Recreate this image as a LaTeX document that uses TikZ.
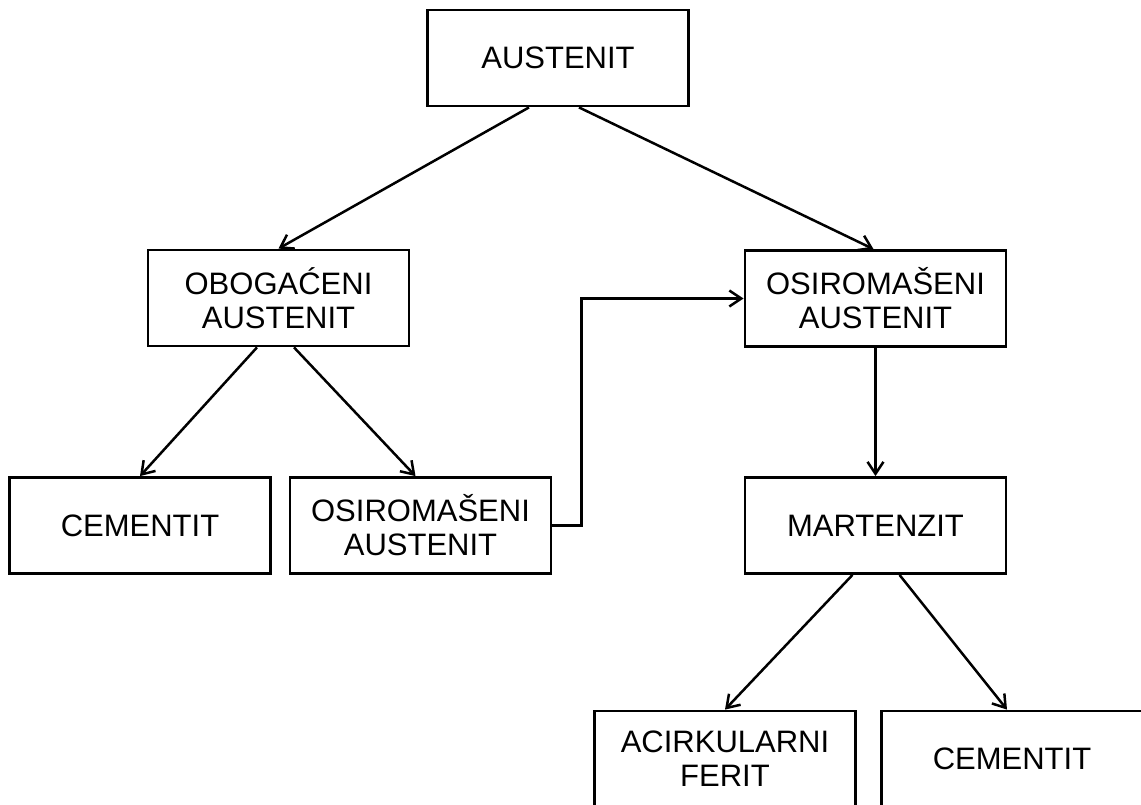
\documentclass[tikz,border=0pt]{standalone}
\usepackage{fontspec}
\setmainfont{Liberation Sans}
\usetikzlibrary{arrows.meta}
\begin{document}
\begin{tikzpicture}[x=1pt,y=-1pt,
  stagebox/.style={draw, line width=2.8pt, minimum width=261pt, minimum height=96pt,
    inner sep=0pt, align=center, font=\fontsize{31}{34}\selectfont},
  link/.style={line width=2.5pt, -{Straight Barb[length=12pt,width=16pt,line width=2.5pt]}}]
\clip (0,0) rectangle (1141,805);
\fill[white] (0,0) rectangle (1141,805);
\node[stagebox] (A)  at (558,58)    {AUSTENIT};
\node[stagebox] (OB) at (278.5,298) {OBOGAĆENI\\AUSTENIT};
\node[stagebox] (OR) at (875.5,298.5) {OSIROMAŠENI\\AUSTENIT};
\node[stagebox] (CL) at (140,525.5) {CEMENTIT};
\node[stagebox] (OM) at (420.5,525.5) {OSIROMAŠENI\\AUSTENIT};
\node[stagebox] (MA) at (875.5,525.5) {MARTENZIT};
\node[stagebox] (AF) at (725,759) {ACIRKULARNI\\FERIT};
\node[stagebox] (CR) at (1012,759) {CEMENTIT};
\draw[link] ([xshift=-29pt]A.south) -- (OB.north);
\draw[link] ([xshift=21pt]A.south) -- ([xshift=-2pt]OR.north);
\draw[link] ([xshift=-21.5pt]OB.south) -- (CL.north);
\draw[link] ([xshift=15.5pt]OB.south) -- ([xshift=-5pt]OM.north);
\draw[link] (OM.east) -- ++(29,0) |- (OR.west);
\draw[link] (OR.south) -- (MA.north);
\draw[link] ([xshift=-23pt]MA.south) -- (AF.north);
\draw[link] ([xshift=24pt]MA.south) -- ([xshift=-5pt]CR.north);
\end{tikzpicture}
\end{document}
